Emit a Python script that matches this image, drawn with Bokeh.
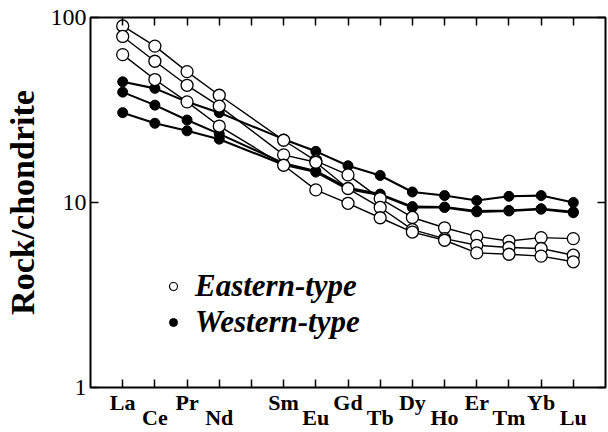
from bokeh.plotting import figure
from bokeh.models import (Range1d, FixedTicker, LogAxis, LinearAxis, PrintfTickFormatter,
                          Legend, LegendItem)
from bokeh.embed import file_html
from bokeh.resources import INLINE

# ---- data ----
elements = ["La", "Ce", "Pr", "Nd", "Sm", "Eu", "Gd", "Tb", "Dy", "Ho", "Er", "Tm", "Yb", "Lu"]
atomic_no = [57, 58, 59, 60, 62, 63, 64, 65, 66, 67, 68, 69, 70, 71]
tick_positions = [57, 58, 59, 60, 61, 62, 63, 64, 65, 66, 67, 68, 69, 70, 71]

eastern_1 = [90, 70, 51, 38, 21.7, 16.8, 14.1, 10.5, 8.3, 7.3, 6.56, 6.19, 6.46, 6.38]
eastern_2 = [79, 58, 43, 33.2, 18.1, 16.5, 11.9, 9.4, 7.13, 6.38, 5.87, 5.71, 5.64, 5.19]
eastern_3 = [63, 46.2, 35, 25.9, 15.9, 11.7, 9.9, 8.27, 6.92, 6.25, 5.34, 5.25, 5.13, 4.78]

western_1 = [44.9, 41.4, 35, 30.6, 22, 18.9, 15.8, 14.0, 11.4, 10.9, 10.25, 10.8, 10.9, 10.0]
western_2 = [39.5, 33.6, 27.9, 23.5, 16.3, 14.8, 12.0, 11.1, 9.5, 9.45, 9.0, 9.06, 9.25, 8.9]
western_3 = [30.6, 26.8, 24.4, 22.0, 16.0, 14.6, 11.8, 11.0, 9.4, 9.4, 8.9, 9.0, 9.2, 8.8]

eastern = [eastern_1, eastern_2, eastern_3]
western = [western_1, western_2, western_3]

y_ticks = [1, 10, 100]
legend_labels = ["Eastern-type", "Western-type"]

FONT = "Liberation Serif"

p = figure(width=608, height=432, output_backend="svg", toolbar_location=None,
           x_range=Range1d(56, 72), y_range=Range1d(1, 100), y_axis_type="log",
           x_axis_location=None, y_axis_location=None,
           min_border_left=87, min_border_right=3, min_border_top=17, min_border_bottom=45)
p.grid.visible = False
p.outline_line_color = "black"
p.outline_line_width = 2
p.background_fill_color = "white"
p.border_fill_color = "white"

# axes
left = LogAxis(ticker=FixedTicker(ticks=y_ticks), formatter=PrintfTickFormatter(format="%d"),
               axis_label="Rock/chondrite")
right = LogAxis(ticker=FixedTicker(ticks=y_ticks))
top = LinearAxis(ticker=FixedTicker(ticks=tick_positions))
bottom = LinearAxis(ticker=FixedTicker(ticks=tick_positions))
bottom2 = LinearAxis(ticker=FixedTicker(ticks=tick_positions))

for ax in (left, right, top, bottom, bottom2):
    ax.axis_line_color = None
    ax.major_tick_in = 8
    ax.major_tick_out = 0
    ax.major_tick_line_width = 1.5
    ax.major_tick_line_color = "black"
    ax.minor_tick_line_color = None
bottom2.major_tick_line_color = None

for ax in (right, top):
    ax.major_label_text_color = None
    ax.major_label_text_font_size = "1px"
    ax.major_label_standoff = 0

left.major_label_text_font = FONT
left.major_label_text_font_size = "24px"
left.major_label_text_color = "black"
left.major_label_standoff = 4
left.axis_label_text_font = FONT
left.axis_label_text_font_style = "bold"
left.axis_label_text_font_size = "34px"
left.axis_label_text_color = "black"
left.axis_label_standoff = 7

# element names: upper row on the first bottom axis, lower row on the second
upper = {61: " "}
lower = {61: " "}
for i, (el, x) in enumerate(zip(elements, atomic_no)):
    upper[x] = el if i % 2 == 0 else " "
    lower[x] = el if i % 2 == 1 else " "
bottom.major_label_overrides = upper
bottom2.major_label_overrides = lower
for ax, so in ((bottom, 2), (bottom2, -13)):
    ax.major_label_text_font = FONT
    ax.major_label_text_font_style = "bold"
    ax.major_label_text_font_size = "22px"
    ax.major_label_text_color = "black"
    ax.major_label_standoff = so

p.add_layout(left, "left")
p.add_layout(right, "right")
p.add_layout(top, "above")
p.add_layout(bottom, "below")
p.add_layout(bottom2, "below")

# series
for s in western:
    p.line(atomic_no, s, line_color="black", line_width=2.1)
for s in eastern:
    p.line(atomic_no, s, line_color="black", line_width=1.4)
# smaller key markers (sit hidden beneath the data markers)
w_key = p.scatter(atomic_no, western_1, marker="circle", size=8, fill_color="black",
                  line_color="black", line_width=1)
e_key = p.scatter(atomic_no, eastern_1, marker="circle", size=8, fill_color="white",
                  line_color="black", line_width=1.2)
for s in western:
    p.scatter(atomic_no, s, marker="circle", size=10, fill_color="black",
              line_color="black", line_width=1)
for s in eastern:
    p.scatter(atomic_no, s, marker="circle", size=12, fill_color="white",
              line_color="black", line_width=1.3)

legend = Legend(items=[LegendItem(label=legend_labels[0], renderers=[e_key]),
                       LegendItem(label=legend_labels[1], renderers=[w_key])],
                location=(73, 47), orientation="vertical",
                label_text_font=FONT, label_text_font_style="bold italic",
                label_text_font_size="31px", label_text_color="black",
                glyph_width=20, glyph_height=22, label_height=34, label_standoff=12,
                spacing=0, padding=0, margin=0,
                border_line_color=None, background_fill_alpha=0)
p.add_layout(legend, "center")

open("out.html", "w").write(file_html(p, INLINE))
